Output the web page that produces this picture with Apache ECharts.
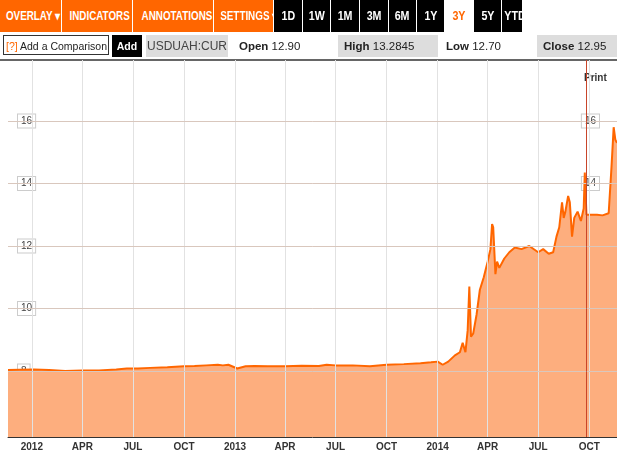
<!DOCTYPE html>
<html><head><meta charset="utf-8">
<script src="https://cdn.jsdelivr.net/npm/echarts@6/dist/echarts.min.js"></script>
<style>
body{margin:0;width:617px;height:452px;overflow:hidden;background:#fff;font-family:"Liberation Sans",Arial,sans-serif;position:relative}
#c{position:absolute;left:0;top:0;width:617px;height:452px}
.b{position:absolute;top:0;height:32px;line-height:32px;color:#fff;font-weight:bold;font-size:12px;text-align:center;background:#f60;white-space:nowrap;overflow:hidden}
.b span{display:inline-block;transform:scaleX(0.82);transform-origin:center}
.k{background:#000;font-size:13px}
.r2{position:absolute;top:35px;height:22px;line-height:22px;font-size:11.5px;color:#222;white-space:nowrap;overflow:hidden}
</style></head><body>
<div id="c"></div>
<div id="tb"></div>
<script>
const toolbarButtons=[["OVERLAY ▾",0,61,0],["INDICATORS ▾",62,70,0],["ANNOTATIONS ▾",133,80,0],["SETTINGS ▾",214,59,0],["1D",274,28,1],["1W",303,27,1],["1M",331,28,1],["3M",360,28,1],["6M",389,27,1],["1Y",417,27,1],["3Y",445,28,2],["5Y",474,27,1],["YTD",502,20,1]];
const quote={symbol:"USDUAH:CUR",open:"12.90",high:"13.2845",low:"12.70",close:"12.95"};
const dates=["2011-11-19","2011-12-10","2012-01-05","2012-02-01","2012-03-01","2012-04-01","2012-05-01","2012-06-01","2012-06-20","2012-07-10","2012-08-01","2012-09-01","2012-10-01","2012-10-20","2012-11-10","2012-12-01","2012-12-10","2012-12-20","2013-01-05","2013-01-20","2013-02-05","2013-03-01","2013-04-01","2013-05-01","2013-06-01","2013-06-15","2013-07-01","2013-08-01","2013-09-01","2013-10-01","2013-11-01","2013-12-01","2013-12-20","2014-01-01","2014-01-10","2014-01-20","2014-02-01","2014-02-10","2014-02-15","2014-02-20","2014-02-24","2014-02-27","2014-03-02","2014-03-06","2014-03-12","2014-03-18","2014-03-25","2014-04-01","2014-04-06","2014-04-09","2014-04-11","2014-04-15","2014-04-18","2014-04-22","2014-05-01","2014-05-10","2014-05-20","2014-06-01","2014-06-15","2014-07-01","2014-07-10","2014-07-20","2014-07-28","2014-08-03","2014-08-08","2014-08-13","2014-08-16","2014-08-19","2014-08-24","2014-08-27","2014-08-31","2014-09-04","2014-09-10","2014-09-16","2014-09-21","2014-09-23","2014-09-26","2014-10-05","2014-10-15","2014-10-25","2014-11-05","2014-11-10","2014-11-14","2014-11-17","2014-11-20"];
const values=[8.03,8.04,8.05,8.03,8.0,8.02,8.02,8.05,8.08,8.08,8.1,8.12,8.15,8.16,8.18,8.2,8.18,8.2,8.08,8.15,8.16,8.15,8.15,8.17,8.16,8.2,8.18,8.18,8.15,8.2,8.22,8.25,8.28,8.3,8.2,8.3,8.5,8.6,8.9,8.6,9.3,10.7,9.1,9.2,9.8,10.6,11.0,11.5,11.9,12.7,12.6,11.1,11.5,11.3,11.6,11.8,11.95,11.9,12.0,11.8,11.9,11.75,11.8,12.3,12.6,13.4,12.9,13.1,13.6,13.4,12.3,12.9,13.1,12.8,13.2,14.35,13.0,13.0,13.0,12.98,13.05,14.5,15.8,15.4,15.3];
const yTicks=[8,10,12,14,16];
const xTicks=["2012-01-01","2012-04-01","2012-07-01","2012-10-01","2013-01-01","2013-04-01","2013-07-01","2013-10-01","2014-01-01","2014-04-01","2014-07-01","2014-10-01"];
const monthNames=["JAN","FEB","MAR","APR","MAY","JUN","JUL","AUG","SEP","OCT","NOV","DEC"];

const tb=document.getElementById('tb');
toolbarButtons.forEach(([t,x,w,k])=>{const d=document.createElement('div');d.className='b'+(k?' k':'');d.style.left=x+'px';d.style.width=w+'px';d.innerHTML='<span>'+t+'</span>';if(k===2){d.style.background='#fff';d.style.color='#f60';}tb.appendChild(d);});
tb.insertAdjacentHTML('beforeend',
`<div class="r2" style="left:3px;width:106px;border:1px solid #333;height:20px;line-height:20px;top:35px;box-sizing:border-box;font-size:10.5px"><span style="color:#f60;padding-left:2px">[?]</span> Add a Comparison</div>
<div class="r2" style="left:112px;width:30px;background:#000;color:#fff;font-weight:bold;text-align:center;font-size:10.5px">Add</div>
<div class="r2" style="left:146px;width:82px;background:#ddd;text-align:center;color:#444;font-size:12px">${quote.symbol}</div>
<div class="r2" style="left:233px;width:100px;padding-left:6px"><b>Open</b> ${quote.open}</div>
<div class="r2" style="left:338px;width:100px;background:#ddd;padding-left:6px;box-sizing:border-box"><b>High</b> ${quote.high}</div>
<div class="r2" style="left:444px;width:90px;padding-left:2px"><b>Low</b> ${quote.low}</div>
<div class="r2" style="left:537px;width:80px;background:#ddd;padding-left:6px;box-sizing:border-box"><b>Close</b> ${quote.close}</div>`);

const chart=echarts.init(document.getElementById('c'));
const ts=s=>+new Date(s+"T00:00:00Z");
const data=dates.map((d,i)=>[ts(d),values[i]]);
const yLab=(m)=>({inside:true,margin:m,customValues:yTicks,color:'#444',fontSize:10,backgroundColor:'#fff',borderColor:'#ccc',borderWidth:1,padding:[2,3,1,3]});
chart.setOption({
  animation:false,
  grid:{left:8,right:0,top:60,bottom:15},
  xAxis:{type:'value',min:ts("2011-11-19"),max:ts("2014-11-20"),
    axisLine:{lineStyle:{color:'#333',width:1}},axisTick:{show:false},splitLine:{show:false},
    axisLabel:{customValues:xTicks.map(ts),margin:5,color:'#333',fontSize:10,fontWeight:'bold',hideOverlap:false,
      formatter:v=>{const d=new Date(v);return d.getUTCMonth()===0?String(d.getUTCFullYear()):monthNames[d.getUTCMonth()];}}},
  yAxis:[{type:'value',min:5.888,max:17.952,position:'left',axisLine:{show:false},axisTick:{show:false},splitLine:{show:false},axisLabel:yLab(10)},
         {type:'value',min:5.888,max:17.952,position:'right',axisLine:{show:false},axisTick:{show:false},splitLine:{show:false},axisLabel:yLab(18)}],
  series:[
    {type:'line',data:[[ts("2012-01-01"),8]],showSymbol:false,lineStyle:{opacity:0},z:1,silent:true,markLine:{silent:true,symbol:'none',label:{show:false},lineStyle:{color:'#e2e2e2',type:'solid',width:1},
      data:yTicks.map(v=>({yAxis:v})).concat(xTicks.map(d=>({xAxis:ts(d)})))}},
    {type:'line',data:data,z:2,showSymbol:false,lineStyle:{color:'#f60',width:2},areaStyle:{color:'#fdae7e',opacity:1},
      markLine:{silent:true,symbol:'none',label:{show:false},lineStyle:{color:'#c8452a',type:'solid',width:1},data:[{xAxis:ts("2014-09-25")}]}},
    {type:'line',data:[[ts("2012-01-01"),8]],showSymbol:false,lineStyle:{opacity:0},z:3,silent:true,markLine:{silent:true,symbol:'none',label:{show:false},lineStyle:{color:'rgba(200,150,120,0.35)',width:1,type:'solid'},data:yTicks.map(v=>({yAxis:v}))}}
  ],
  graphic:[
    {type:'line',shape:{x1:0,y1:60,x2:617,y2:60},style:{stroke:'#333',lineWidth:1.5}},
    {type:'text',left:584,top:73,style:{text:'Print',font:'bold 10px "Liberation Sans"',fill:'#333'}},
    {type:'rect',shape:{x:557,y:414,width:60,height:20},style:{fill:'#c8c8c8'}},
    {type:'text',left:559,top:418,style:{text:'09/25/2014',font:'11px "Liberation Sans"',fill:'#222'}}
  ]
});
</script></body></html>
